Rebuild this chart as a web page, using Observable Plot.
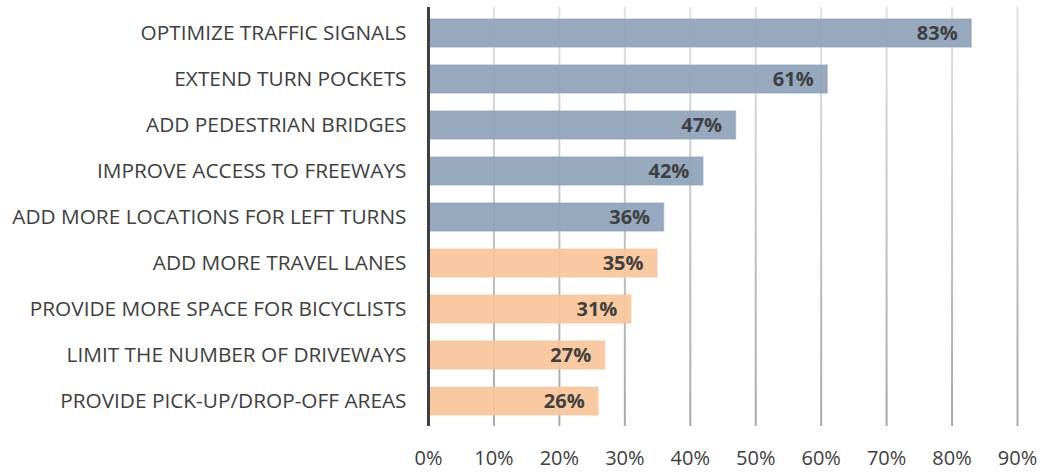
<!DOCTYPE html>
<html><head><meta charset="utf-8">
<script src="https://cdn.jsdelivr.net/npm/d3@7"></script>
<script src="https://cdn.jsdelivr.net/npm/@observablehq/plot@0.6"></script>
<style>body{margin:0;background:#fff;font-family:"Open Sans",sans-serif}</style>
</head><body><div id="chart"></div>
<script>
const categories = ["OPTIMIZE TRAFFIC SIGNALS","EXTEND TURN POCKETS","ADD PEDESTRIAN BRIDGES","IMPROVE ACCESS TO FREEWAYS","ADD MORE LOCATIONS FOR LEFT TURNS","ADD MORE TRAVEL LANES","PROVIDE MORE SPACE FOR BICYCLISTS","LIMIT THE NUMBER OF DRIVEWAYS","PROVIDE PICK-UP/DROP-OFF AREAS"];
const values = [83,61,47,42,36,35,31,27,26];
const groups = ["top","top","top","top","top","other","other","other","other"];
const xTicks = [0,10,20,30,40,50,60,70,80,90];
const data = categories.map((c,i)=>({cat:c, v:values[i], g:groups[i]}));
const chart = Plot.plot({
  width:1042, height:472,
  marginLeft:428, marginRight:25, marginTop:7, marginBottom:46,
  style:{fontFamily:"Open Sans, sans-serif", color:"#404040", background:"#fff"},
  x:{domain:[0,90], label:null},
  y:{domain:categories, paddingInner:0.4, paddingOuter:0.2, label:null},
  color:{domain:["top","other"], range:["#8da2b8","#f9c599"]},
  marks:[
    () => {
      const svg = d3.create("svg:defs");
      const g = svg.append("linearGradient").attr("id","gridgrad")
        .attr("gradientUnits","userSpaceOnUse").attr("x1",0).attr("x2",0).attr("y1",7).attr("y2",426);
      g.append("stop").attr("offset","0%").attr("stop-color","#e2e2e2");
      g.append("stop").attr("offset","100%").attr("stop-color","#a8a8a8");
      return svg.node();
    },
    Plot.ruleX(xTicks,{stroke:"url(#gridgrad)", strokeWidth:2}),
    Plot.barX(data,{y:"cat", x:"v", fill:"g", fillOpacity:0.92, stroke:"g", strokeOpacity:0.5, strokeWidth:1.5}),
    Plot.text(data,{y:"cat", x:"v", text:d=>d.v+"%", textAnchor:"end", dx:-14, fontWeight:"bold", fontSize:20, fill:"#404040"}),
    Plot.ruleX([0],{stroke:"#404040", strokeWidth:3}),
    Plot.axisY({tickSize:0, tickPadding:22, fontSize:20.8, textAnchor:"end"}),
    Plot.axisX(xTicks,{tickSize:0, tickPadding:24, fontSize:20, tickFormat:d=>d+"%"})
  ]
});
document.getElementById("chart").append(chart);
</script></body></html>
